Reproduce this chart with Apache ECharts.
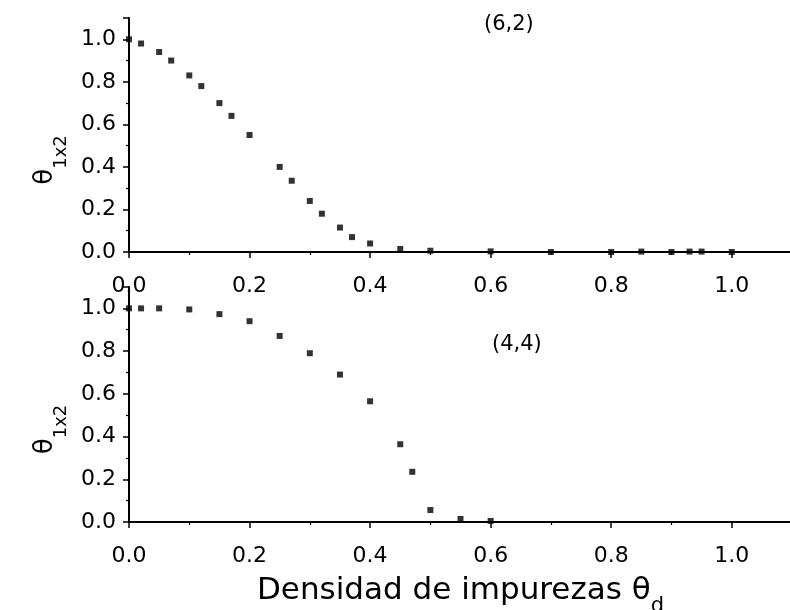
<!DOCTYPE html>
<html>
<head>
<meta charset="utf-8">
<script src="https://cdn.jsdelivr.net/npm/echarts@6/dist/echarts.min.js"></script>
<style>
  html, body { margin: 0; padding: 0; background: #fff; }
  #chart { width: 790px; height: 610px; }
</style>
</head>
<body>
<div id="chart"></div>
<script>
// panel (6,2)
const xTop = [0.0, 0.02, 0.05, 0.07, 0.10, 0.12, 0.15, 0.17, 0.20, 0.25, 0.27, 0.30, 0.32, 0.35, 0.37, 0.40, 0.45, 0.50, 0.60, 0.70, 0.80, 0.85, 0.90, 0.93, 0.95, 1.00];
const yTop = [1.0, 0.98, 0.94, 0.90, 0.83, 0.78, 0.70, 0.64, 0.55, 0.40, 0.335, 0.24, 0.18, 0.115, 0.07, 0.04, 0.014, 0.006, 0.003, 0.0, 0.0, 0.002, 0.0, 0.002, 0.002, 0.0];

// panel (4,4)
const xBot = [0.0, 0.02, 0.05, 0.10, 0.15, 0.20, 0.25, 0.30, 0.35, 0.40, 0.45, 0.47, 0.50, 0.55, 0.60];
const yBot = [1.0, 1.0, 1.0, 0.995, 0.973, 0.94, 0.871, 0.79, 0.69, 0.565, 0.364, 0.235, 0.056, 0.014, 0.005];

const panelLabels = ['(6,2)', '(4,4)'];

const font = 'DejaVu Sans';

const pairs = (xs, ys) => xs.map((x, i) => [x, ys[i]]);

const makeX = (gridIndex, withName) => ({
    type: 'value',
    gridIndex,
    min: 0,
    max: 1.1,
    interval: 0.2,
    axisLine: { show: true, onZero: false, lineStyle: { color: '#000', width: 2 } },
    axisTick: { show: true, length: 6, lineStyle: { color: '#000', width: 1.5 } },
    minorTick: { show: true, splitNumber: 2, length: 3, lineStyle: { color: '#000', width: 1.2 } },
    splitLine: { show: false },
    axisLabel: {
        color: '#000', fontFamily: font, fontSize: 22, margin: 23, showMaxLabel: false,
        formatter: v => v.toFixed(1),
    },
    name: withName ? '{a|Densidad de impurezas θ}{d|d}' : '',
    nameLocation: 'middle',
    nameGap: 53,
    nameTextStyle: {
        rich: {
            a: { fontFamily: font, fontSize: 31, color: '#000', lineHeight: 36, verticalAlign: 'top' },
            d: { fontFamily: font, fontSize: 21, color: '#000', lineHeight: 42, verticalAlign: 'bottom' },
        },
    },
});

const makeY = gridIndex => ({
    type: 'value',
    gridIndex,
    min: 0,
    max: 1.1,
    interval: 0.2,
    axisLine: { show: true, lineStyle: { color: '#000', width: 2 } },
    axisTick: { show: true, length: 6, lineStyle: { color: '#000', width: 1.5 } },
    minorTick: { show: true, splitNumber: 2, length: 3, lineStyle: { color: '#000', width: 1.2 } },
    splitLine: { show: false },
    axisLabel: {
        color: '#000', fontFamily: font, fontSize: 22, margin: 13, showMaxLabel: false,
        formatter: v => v.toFixed(1),
    },
    name: '{t|θ}{s|1x2}',
    nameLocation: 'middle',
    nameGap: 50,
    nameTextStyle: {
        padding: [0, 50, 0, 0],
        rich: {
            t: { fontFamily: font, fontSize: 26, color: '#000', lineHeight: 30, verticalAlign: 'top' },
            s: { fontFamily: font, fontSize: 18, color: '#000', lineHeight: 38, verticalAlign: 'bottom' },
        },
    },
});

const chart = echarts.init(document.getElementById('chart'));

chart.setOption({
    backgroundColor: '#fff',
    animation: false,
    grid: [
        { left: 129, right: -2, top: 18, bottom: 358, outerBoundsMode: 'none' },
        { left: 129, right: -2, top: 287, bottom: 88, outerBoundsMode: 'none' },
    ],
    xAxis: [makeX(0, false), makeX(1, true)],
    yAxis: [makeY(0), makeY(1)],
    graphic: [
        { type: 'text', left: 484, top: 14, style: { text: panelLabels[0], fontFamily: font, fontSize: 21, fill: '#000' } },
        { type: 'text', left: 492, top: 334, style: { text: panelLabels[1], fontFamily: font, fontSize: 21, fill: '#000' } },
    ],
    series: [
        {
            type: 'scatter', xAxisIndex: 0, yAxisIndex: 0,
            symbol: 'rect', symbolSize: 6,
            itemStyle: { color: '#000' },
            data: pairs(xTop, yTop),
        },
        {
            type: 'scatter', xAxisIndex: 1, yAxisIndex: 1,
            symbol: 'rect', symbolSize: 6,
            itemStyle: { color: '#000' },
            data: pairs(xBot, yBot),
        },
    ],
});
</script>
</body>
</html>
